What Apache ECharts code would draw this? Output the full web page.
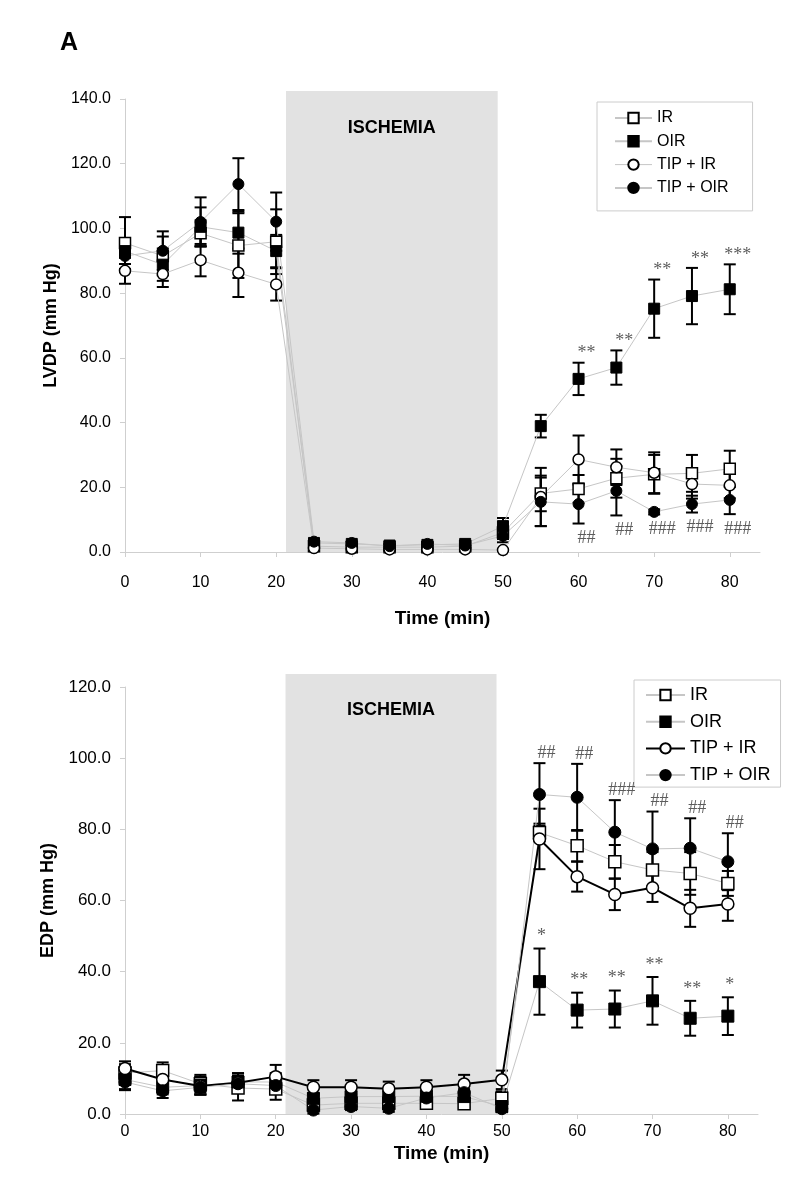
<!DOCTYPE html>
<html>
<head>
<meta charset="utf-8">
<script src="https://cdn.jsdelivr.net/npm/echarts@6/dist/echarts.min.js"></script>
<style>
html,body{margin:0;padding:0;background:#fff;}
#chart{width:800px;height:1194px;}
</style>
</head>
<body>
<div id="chart"></div>
<script>
// ---------- DATA ----------
const times = [0,5,10,15,20,25,30,35,40,45,50,55,60,65,70,75,80];
const seriesNames = ['IR','OIR','TIP + IR','TIP + OIR'];
const ischemiaStart = 21.3;
const ischemiaEnd = 49.3;
const ischemiaLabel = 'ISCHEMIA';
const xTickLabels = [0,10,20,30,40,50,60,70,80];

// LVDP (mm Hg) means and SE
const lvdpIR      = [95.5,91.5,98.5,94.7,95.9,1.8,1.5,1.5,1.5,1.8,6.0,18.1,19.5,22.8,24.0,24.3,25.7];
const lvdpIRse    = [8,6,4,10,10,0.5,0.5,0.5,0.5,0.5,2,5.5,4.3,6,6,5.7,5.6];
const lvdpOIR     = [93.0,88.8,100.5,98.7,93.0,2.8,2.5,2.0,2.2,2.5,8.0,38.9,53.5,57.0,75.2,79.1,81.2];
const lvdpOIRse   = [4,5,6,6.5,5,0.5,0.5,0.5,0.5,0.5,2.5,3.5,5,5.3,9,8.7,7.7];
const lvdpTIPIR   = [86.9,85.9,90.2,86.3,82.7,1.2,1.0,0.8,0.8,0.8,0.6,17.0,28.6,26.2,24.5,21.0,20.6];
const lvdpTIPIRse = [4,4,5,7.5,5,0.5,0.5,0.5,0.5,0.5,0.3,9,7.4,5.5,6.3,4.5,4];
const lvdpTIPOIR  = [91.5,93.1,102.0,113.7,102.1,3.2,2.8,1.8,2.5,2.0,5.0,15.5,14.8,18.9,12.4,14.8,16.1];
const lvdpTIPOIRse= [5,6,7.6,8,9,0.5,0.5,0.5,0.5,0.5,2,7.5,6,7.6,0.8,2.6,4.4];
const lvdpStarTimes = [60,65,70,75,80];
const lvdpStars     = ['**','**','**','**','***'];
const lvdpHashTimes = [60,65,70,75,80];
const lvdpHashes    = ['##','##','###','###','###'];
const lvdpYMax = 140, lvdpYStep = 20;

// EDP (mm Hg) means and SE
const edpIR      = [11.5,12.2,8.5,7.3,7.0,2.5,3.0,3.0,3.0,2.9,4.4,79.1,75.4,70.9,68.6,67.6,64.8];
const edpIRse    = [2.5,2.3,2.5,3.5,3,1,1,1,1,1,2,2.5,4.4,4.7,5,6,3.5];
const edpOIR     = [9.7,7.5,8.0,9.0,9.0,4.4,4.9,4.9,5.0,4.9,2.1,37.2,29.2,29.5,31.8,26.9,27.5];
const edpOIRse   = [3,2,2.5,2.5,2.5,1.5,1.5,1.5,1.5,1.5,1,9.3,4.9,5.2,6.7,4.9,5.3];
const edpTIPIR   = [12.8,9.7,7.9,8.8,10.5,7.5,7.5,7.1,7.5,8.4,9.6,77.3,66.7,61.7,63.6,57.8,59.0];
const edpTIPIRse = [2,2.5,2.5,2.6,3.3,2,2,2,2,2.6,2.6,8.5,4.2,4.4,4,5.2,4.7];
const edpTIPOIR  = [9.0,6.5,7.5,8.5,8.0,1.1,2.1,1.6,4.5,6.0,1.5,89.8,89.0,79.2,74.5,74.7,70.9];
const edpTIPOIRse= [2,2,2,2,2,1,1,1,1,1,1,8.8,9.4,9,10.5,8.4,8];
const edpStarTimes = [55,60,65,70,75,80];
const edpStars     = ['*','**','**','**','**','*'];
const edpHashTimes = [55,60,65,70,75,80];
const edpHashes    = ['##','##','###','##','##','##'];
const edpYMax = 120, edpYStep = 20;

// ---------- STYLES ----------
const GRAY_LINE = '#c6c6c6';
const AXIS_COL = '#cfcfcf';
const BOX_COL = '#e2e2e2';
const LABEL_FONT = "'Liberation Sans',Arial,sans-serif";
const FONT = "'Liberation Sans',Arial,sans-serif";
const SERIF = "'Liberation Serif','Times New Roman',serif";

const markerStyles = [
  {symbol:'rect',   item:{color:'#fff', borderColor:'#000', borderWidth:1.5}},
  {symbol:'rect',   item:{color:'#000', borderColor:'#000', borderWidth:1}},
  {symbol:'circle', item:{color:'#fff', borderColor:'#000', borderWidth:1.5}},
  {symbol:'circle', item:{color:'#000', borderColor:'#000', borderWidth:1}}
];

function pairs(arr){ return times.map((t,i)=>[t, arr[i]]); }

function errRender(params, api){
  const x = api.value(0), m = api.value(1), e = api.value(2);
  if (!(e > 0)) return null;
  const p1 = api.coord([x, m + e]);
  const p2 = api.coord([x, m - e]);
  const w = 6;
  const st = {stroke:'#000', lineWidth:2};
  return {type:'group', children:[
    {type:'line', shape:{x1:p1[0], y1:p1[1], x2:p2[0], y2:p2[1]}, style:st},
    {type:'line', shape:{x1:p1[0]-w, y1:p1[1], x2:p1[0]+w, y2:p1[1]}, style:st},
    {type:'line', shape:{x1:p2[0]-w, y1:p2[1], x2:p2[0]+w, y2:p2[1]}, style:st}
  ]};
}

function boxRenderFactory(yMax, extraTop, labelDy){
  return function(params, api){
    const a = api.coord([api.value(0), yMax]);
    const b = api.coord([api.value(1), 0]);
    const x0 = a[0], x1 = b[0], y0 = a[1] - extraTop, y1 = b[1];
    return {type:'group', children:[
      {type:'rect', shape:{x:x0, y:y0, width:x1-x0, height:y1-y0}, style:{fill:BOX_COL}},
      {type:'text', x:(x0+x1)/2, y:y0+labelDy, style:{text:ischemiaLabel, fill:'#000',
        font:"bold 18px " + FONT, align:'center', verticalAlign:'middle'}}
    ]};
  };
}

function makeChart(gi, cfg){
  const series = [];
  series.push({type:'custom', xAxisIndex:gi, yAxisIndex:gi, silent:true, z:0, clip:false,
    renderItem: boxRenderFactory(cfg.yMax, cfg.boxExtra, cfg.boxLabelDy),
    data:[[ischemiaStart, ischemiaEnd]]});
  const errData = [];
  cfg.means.forEach((arr, k)=>{ times.forEach((t,i)=>errData.push([t, arr[i], cfg.ses[k][i]])); });
  series.push({type:'custom', xAxisIndex:gi, yAxisIndex:gi, silent:true, z:2,
    renderItem: errRender, encode:{x:0, y:1}, data: errData});
  cfg.means.forEach((arr,k)=>{
    const ms = markerStyles[k];
    const ls = cfg.lineStyles[k];
    series.push({type:'line', name:seriesNames[k], xAxisIndex:gi, yAxisIndex:gi, z:3,
      data: pairs(arr), symbol: ms.symbol, symbolSize: cfg.symbolSize, showAllSymbol:true,
      itemStyle: ms.item, lineStyle: ls, emphasis:{disabled:true}});
  });
  function annot(tList, labels, base, seArr, sign, pos, dist, dx){
    return {type:'scatter', xAxisIndex:gi, yAxisIndex:gi, z:4, silent:true, symbolSize:0,
      data: tList.map((t,j)=>{ const i = times.indexOf(t); return {value:[t, base[i] + sign*seArr[i]], lab:labels[j]}; }),
      label:{show:true, position:pos, distance:dist, offset:[dx,0],
        formatter: p => p.data.lab, color:'#333', fontFamily:SERIF, fontSize:18}};
  }
  cfg.annots.forEach(a=>series.push(annot(a.t, a.l, a.base, a.se, a.sign, a.pos, a.dist, a.dx)));
  return series;
}

const chart = echarts.init(document.getElementById('chart'), null, {renderer:'canvas'});

const topSeries = makeChart(0, {
  yMax: lvdpYMax, boxExtra: 8, boxLabelDy: 37, symbolSize: 11,
  means:[lvdpIR, lvdpOIR, lvdpTIPIR, lvdpTIPOIR],
  ses:[lvdpIRse, lvdpOIRse, lvdpTIPIRse, lvdpTIPOIRse],
  lineStyles:[{color:GRAY_LINE,width:1},{color:GRAY_LINE,width:1},{color:GRAY_LINE,width:1},{color:GRAY_LINE,width:1}],
  annots:[
    {t:lvdpStarTimes, l:lvdpStars, base:lvdpOIR, se:lvdpOIRse, sign:1, pos:'top', dist:0, dx:8},
    {t:lvdpHashTimes, l:lvdpHashes, base:lvdpTIPOIR, se:lvdpTIPOIRse, sign:-1, pos:'bottom', dist:6, dx:8}
  ]
});
const bottomSeries = makeChart(1, {
  yMax: edpYMax, boxExtra: 13, boxLabelDy: 36, symbolSize: 12,
  means:[edpIR, edpOIR, edpTIPIR, edpTIPOIR],
  ses:[edpIRse, edpOIRse, edpTIPIRse, edpTIPOIRse],
  lineStyles:[{color:GRAY_LINE,width:1},{color:GRAY_LINE,width:1},{color:'#000',width:2},{color:GRAY_LINE,width:1}],
  annots:[
    {t:edpStarTimes, l:edpStars, base:edpOIR, se:edpOIRse, sign:1, pos:'top', dist:3, dx:2},
    {t:edpHashTimes, l:edpHashes, base:edpTIPOIR, se:edpTIPOIRse, sign:1, pos:'top', dist:1, dx:7}
  ]
});

function xAxisCfg(gi, labelMargin, nameGap, fs){
  return {type:'value', gridIndex:gi, min:0, max:84, interval:10,
    name:'Time (min)', nameLocation:'middle', nameGap:nameGap,
    nameTextStyle:{fontFamily:FONT, fontWeight:'bold', fontSize:19, color:'#000'},
    axisLine:{show:true, lineStyle:{color:AXIS_COL, width:1}},
    axisTick:{show:true, length:5, customValues:xTickLabels, lineStyle:{color:AXIS_COL}},
    axisLabel:{margin:labelMargin, customValues:xTickLabels, color:'#000', fontFamily:LABEL_FONT, fontSize:fs},
    splitLine:{show:false}};
}
function yAxisCfg(gi, max, step, name, nameGap, fs){
  return {type:'value', gridIndex:gi, min:0, max:max, interval:step,
    name:name, nameLocation:'middle', nameGap:nameGap,
    nameTextStyle:{fontFamily:FONT, fontWeight:'bold', fontSize:18, color:'#000'},
    axisLine:{show:true, lineStyle:{color:AXIS_COL, width:1}},
    axisTick:{show:true, length:5, lineStyle:{color:AXIS_COL}},
    axisLabel:{margin:14, color:'#000', fontFamily:LABEL_FONT, fontSize:fs, formatter:v=>v.toFixed(1)},
    splitLine:{show:false}};
}

function legendCfg(left, topPx, fontSize, lineH, gap, itemW, itemH, pad, tipIrLine){
  return {
    left:left, top:topPx, orient:'vertical', selectedMode:false,
    backgroundColor:'#fff', borderColor:'#cccccc', borderWidth:1, borderRadius:0,
    padding:pad, itemGap:gap, itemWidth:itemW, itemHeight:itemH,
    textStyle:{fontFamily:FONT, fontSize:fontSize, lineHeight:lineH, color:'#000'},
    data: seriesNames.map((n,k)=>{
      const o = {name:n};
      if (k === 2 && tipIrLine) o.lineStyle = tipIrLine;
      return o;
    })
  };
}

chart.setOption({
  animation:false,
  backgroundColor:'#fff',
  graphic:[{type:'text', left:60, top:31, style:{text:'A', font:"bold 25px " + FONT, fill:'#000'}}],
  grid:[
    {left:125, right:40, top:99, height:453},
    {left:125, right:42, top:687, height:427}
  ],
  xAxis:[xAxisCfg(0, 23, 57, 16), xAxisCfg(1, 10, 30, 16)],
  yAxis:[yAxisCfg(0, lvdpYMax, lvdpYStep, 'LVDP (mm Hg)', 50, 16), yAxisCfg(1, edpYMax, edpYStep, 'EDP (mm Hg)', 68, 17)],
  legend:[
    legendCfg(597, 102, 16, 16, 7.3, 37, 13, [8, 24, 15, 17], {color:GRAY_LINE, width:1}),
    legendCfg(634, 680, 18, 20, 6.7, 39, 13, [5, 10, 2, 11], {color:'#000', width:2})
  ],
  series: topSeries.concat(bottomSeries)
});
</script>
</body>
</html>
